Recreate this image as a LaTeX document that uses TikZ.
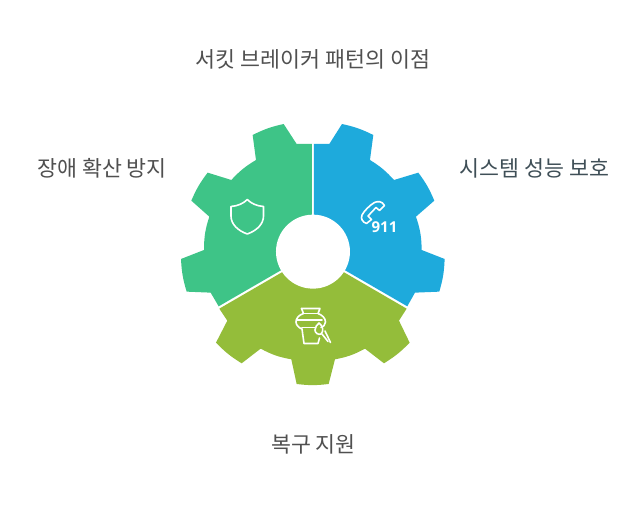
\documentclass[tikz,border=0pt]{standalone}
\usepackage{fontspec}
\setmainfont{Noto Sans CJK KR}
\newfontfamily\numfont{Open Sans}
\definecolor{gblue}{HTML}{1EAADC}
\definecolor{ggreen}{HTML}{3EC487}
\definecolor{golive}{HTML}{94BD3A}
\definecolor{ttl}{HTML}{505050}
\definecolor{tslate}{HTML}{3F4F57}
\tikzset{
  lbl/.style={text=ttl,font=\fontsize{21.7}{26}\selectfont,inner sep=0pt,anchor=center},
  icon/.style={draw=white,line width=1.6pt,line join=round,line cap=round},
  zoomed/.style={x=0.3333pt,y=-0.3333pt,shift={(170pt,-110pt)}}
}
\begin{document}
\begin{tikzpicture}[x=1pt,y=-1pt]
\useasboundingbox (0,0) rectangle (638,506);
\fill[white] (0,0) rectangle (638,506);
\begin{scope}[zoomed]
\fill[gblue] (432,102) to[bend left=3] (478,102) -- (516,42) to[bend left=7] (610,75) -- (600,150)
  to[bend left=8] (672,210) -- (745,188) to[bend left=7] (793,272) -- (738,320)
  to[bend left=9] (755,420) -- (824,447) to[bend left=7] (808,545) -- (735,548) -- (712,589) -- (432,427) -- cycle;
\fill[ggreen] (426,102) to[bend right=3] (380,102) -- (341,42) to[bend right=7] (248,75) -- (258,150)
  to[bend right=8] (184,210) -- (113,188) to[bend right=7] (64,272) -- (118,320)
  to[bend right=9] (102,420) -- (33,447) to[bend right=7] (50,545) -- (122,548) -- (146,589) -- (426,427) -- cycle;
\fill[golive] (429,433) -- (710,596) -- (687,632) -- (719,698) to[bend left=7] (642,760) -- (585,716)
  to[bend left=9] (495,748) -- (476,822) to[bend left=7] (380,822) -- (364,748)
  to[bend left=9] (272,716) -- (215,760) to[bend left=7] (138,698) -- (172,632) -- (148,596) -- cycle;
\fill[white] (429,425) circle[radius=111];
\end{scope}
% shield
\draw[icon] (247.3,199.5) .. controls (251,203.5) and (257,206) .. (263.5,206.5)
  -- (263.5,216) .. controls (263.5,224) and (257,230.5) .. (247.3,234)
  .. controls (237.5,230.5) and (231,224) .. (231,216) -- (231,206.5)
  .. controls (237.5,206) and (243.5,203.5) .. (247.3,199.5) -- cycle;
% phone
\draw[icon] (374.5,202.5) .. controls (378,201) and (382,201) .. (384.5,205.5)
  -- (379.5,210.5) -- (376,207.5) -- (368,216) -- (371.5,219.5) -- (366.5,223.5)
  .. controls (362.5,222) and (360.5,219) .. (362,215) .. controls (364,211) and (370,205) .. (374.5,202.5) -- cycle;
\node[text=white,inner sep=0pt,font=\numfont\bfseries\fontsize{15}{15}\selectfont] (n911) at (384.5,227.6) {911};
% vase and brush
\draw[icon] (301.5,308.5) -- (320,308.5) -- (318,313.5) .. controls (322,315) and (325.5,318) .. (325.5,322)
  .. controls (325.5,325) and (323,327) .. (321,327.5);
\draw[icon] (301.5,308.5) -- (303.5,313.5) .. controls (299,315) and (296,318) .. (296,322)
  .. controls (296,325) and (299,328) .. (302,329) -- (304,343.5) -- (318,343.5) -- (319.5,338);
\draw[icon] (303.5,313.5) -- (318,313.5);
\draw[icon] (296.5,320) -- (322,320);
\draw[icon] (302,327.5) -- (315,327.5);
\draw[icon] (319,323) .. controls (323,326) and (324,331) .. (321,334) .. controls (318,335) and (315,333) .. (315,330) .. controls (315,327) and (317,325) .. (319,323) -- cycle;
\draw[icon] (322,334) -- (328,341.5);
\draw[icon] (325,331) -- (330.5,342.5);
% labels
\node[lbl] (t) at (313,59.5) {서킷 브레이커 패턴의 이점};
\node[lbl] (a) at (102,168) {장애 확산 방지};
\node[lbl,text=tslate] (b) at (534.5,168) {시스템 성능 보호};
\node[lbl] (c) at (313.5,444) {복구 지원};
\end{tikzpicture}
\end{document}
